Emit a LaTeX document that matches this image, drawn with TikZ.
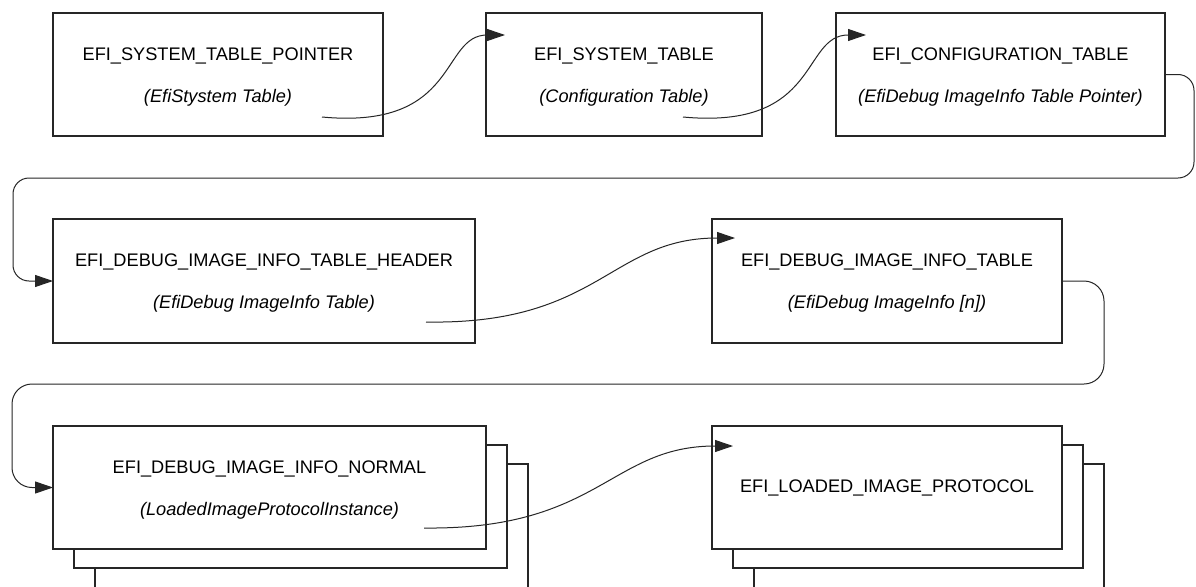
\documentclass[tikz,border=0pt]{standalone}
\usepackage{fontspec}
\setmainfont{Liberation Sans}
\usetikzlibrary{arrows.meta,calc}
\begin{document}
\begin{tikzpicture}[x=1pt,y=-1pt,
  box/.style={draw=black!85,line width=1.2pt,fill=white,inner sep=0pt,outer sep=0pt,
    align=center,text=black,font=\fontsize{18.2}{42}\selectfont},
  shadowbox/.style={draw=black!85,line width=1.2pt,fill=white,inner sep=0pt,outer sep=0pt},
  link/.style={draw=black!85,line width=1pt,-{Triangle[length=18pt,width=12pt]}}]
\clip (0,0) rectangle (1196,586);
\fill[white] (0,0) rectangle (1196,586);
\newcommand{\subt}[1]{{\itshape #1}}
\newcommand{\tstrut}{\rule{0pt}{17pt}}

% shadows
\node[shadowbox,minimum width=433pt,minimum height=140pt] (Fs2) at (311.5,534) {};
\node[shadowbox,minimum width=433pt,minimum height=123pt] (Fs1) at (290.5,506.5) {};
\node[shadowbox,minimum width=350pt,minimum height=140pt] (Gs2) at (929,534) {};
\node[shadowbox,minimum width=350pt,minimum height=123pt] (Gs1) at (908,506.5) {};

% boxes
\node[box,minimum width=330pt,minimum height=123pt] (A) at (218,74.5)
  {\tstrut EFI\_SYSTEM\_TABLE\_POINTER\\\subt{(EfiStystem Table)}};
\node[box,minimum width=276pt,minimum height=123pt] (B) at (624,74.5)
  {\tstrut EFI\_SYSTEM\_TABLE\\\subt{(Configuration Table)}};
\node[box,minimum width=329pt,minimum height=123pt] (C) at (1000.5,74.5)
  {\tstrut EFI\_CONFIGURATION\_TABLE\\\subt{(EfiDebug ImageInfo Table Pointer)}};
\node[box,minimum width=422pt,minimum height=124pt] (D) at (264,281)
  {\tstrut EFI\_DEBUG\_IMAGE\_INFO\_TABLE\_HEADER\\\subt{(EfiDebug ImageInfo Table)}};
\node[box,minimum width=350pt,minimum height=124pt] (E) at (887,281)
  {\tstrut EFI\_DEBUG\_IMAGE\_INFO\_TABLE\\\subt{(EfiDebug ImageInfo [n])}};
\node[box,minimum width=433pt,minimum height=123pt] (F) at (269.5,487.5)
  {\tstrut EFI\_DEBUG\_IMAGE\_INFO\_NORMAL\\\subt{(LoadedImageProtocolInstance)}};
\node[box,minimum width=350pt,minimum height=123pt] (G) at (887,487.5)
  {EFI\_LOADED\_IMAGE\_PROTOCOL};

% free ends of the curved links
\coordinate (a1) at (322,117);
\coordinate (b1) at (505,35);
\coordinate (a2) at (683,117);
\coordinate (b2) at (866,35);
\coordinate (a4) at (426,322);
\coordinate (b4) at (735,238);
\coordinate (a6) at (424,528);
\coordinate (b6) at (733,446);

\draw[link] (a1) .. controls (460,130) and (440,35) .. (b1);
\draw[link] (a2) .. controls (821,130) and (801,35) .. (b2);
\draw[link] (a4) .. controls (600,325) and (610,238) .. (b4);
\draw[link] (a6) .. controls (600,530) and (610,446) .. (b6);

\draw[link,rounded corners=16pt] (C.east) -- (1194,74.5) -- (1194,178) -- (13,178) -- (13,281) -- (D.west);
\draw[link,rounded corners=20pt] (E.east) -- (1104,281) -- (1104,384) -- (12,384) -- (12,487.5) -- (F.west);
\end{tikzpicture}
\end{document}
